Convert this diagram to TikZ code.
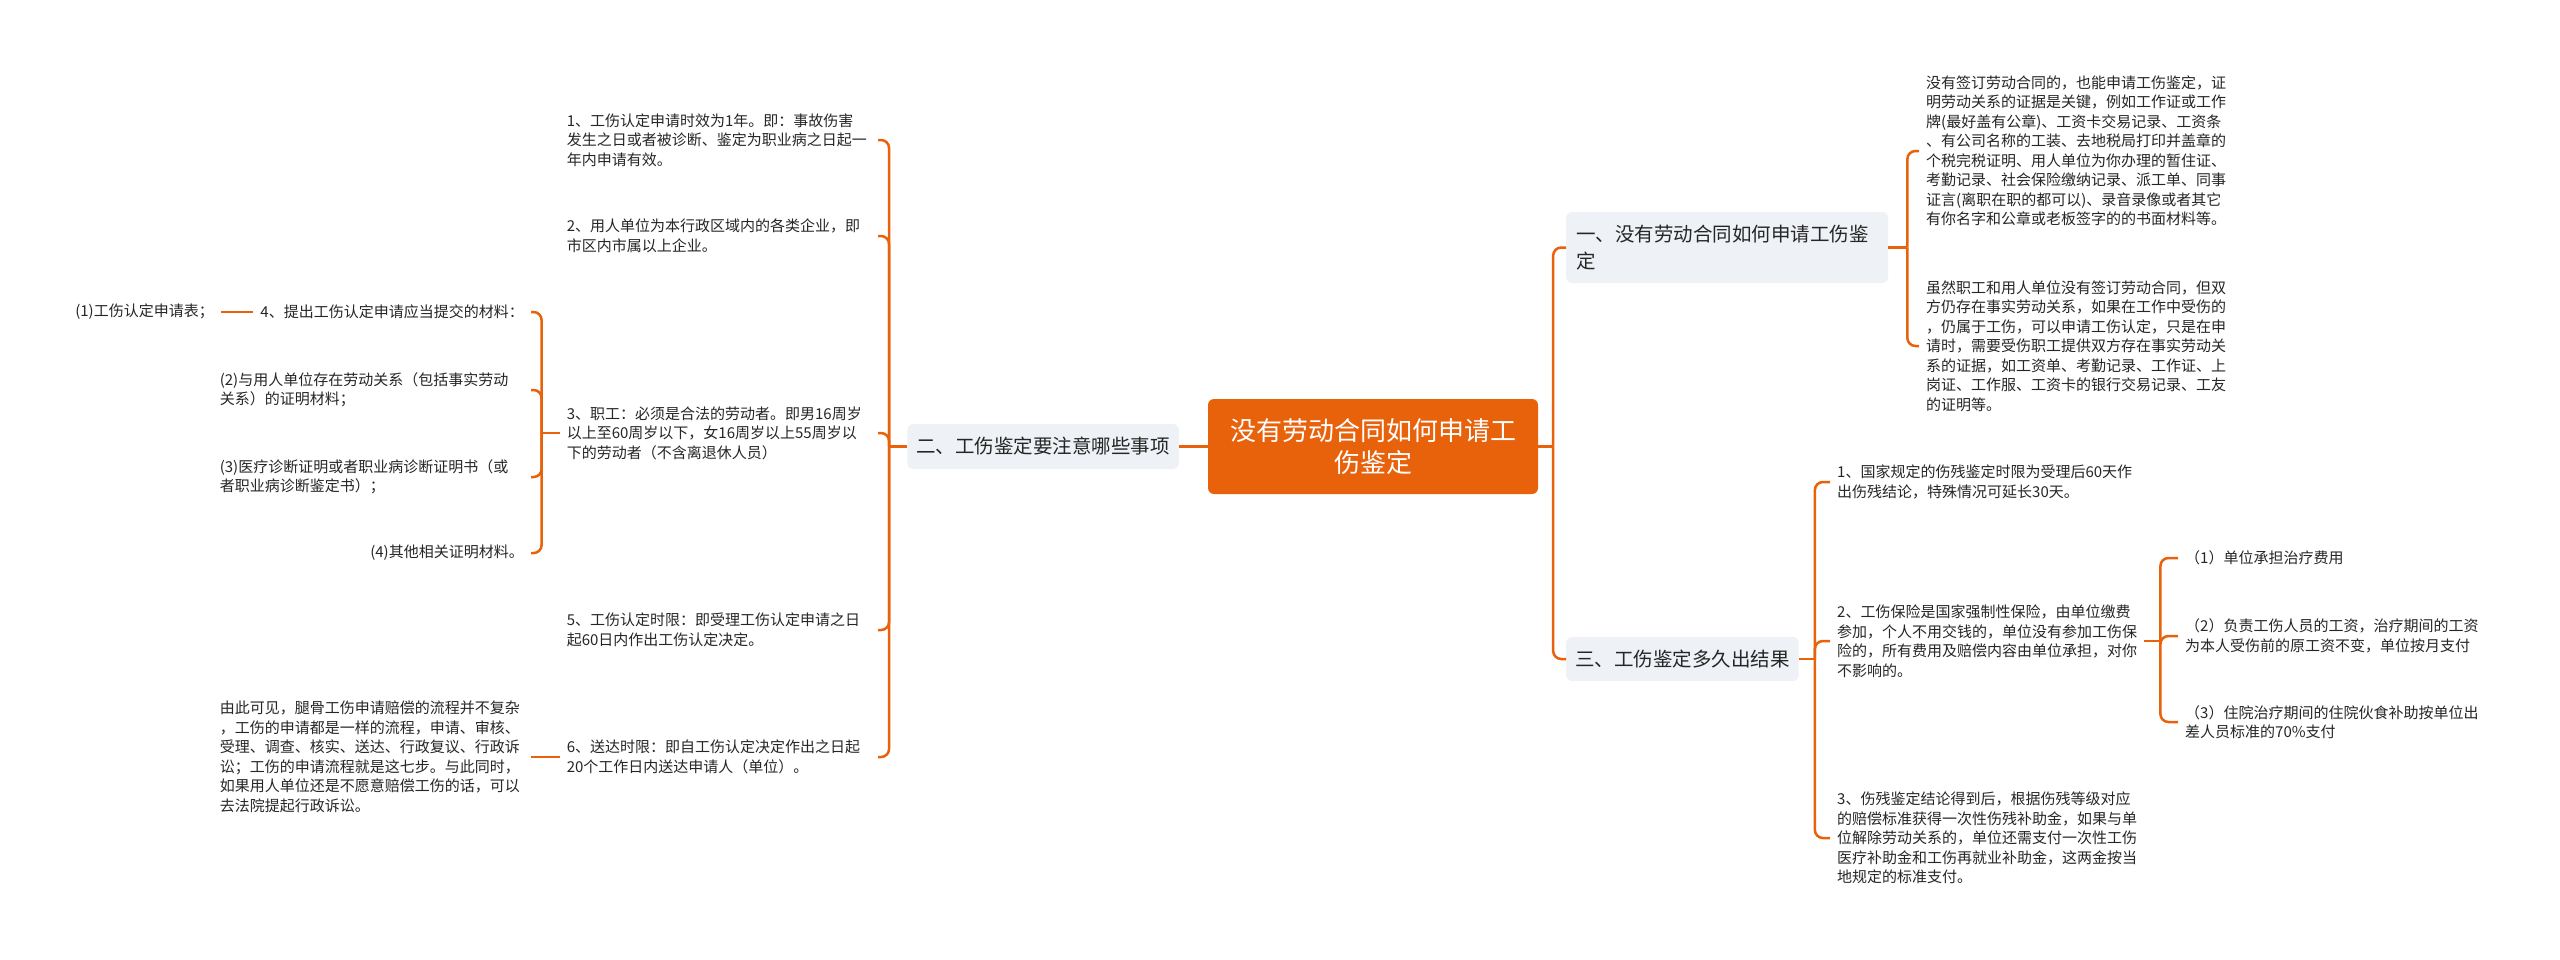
\documentclass[tikz,border=0pt]{standalone}
\usepackage{fontspec}
\setmainfont{Noto Sans CJK SC}
\definecolor{org}{HTML}{E8620C}
\definecolor{lvfill}{HTML}{EEF1F5}
\definecolor{txt}{HTML}{262626}
\tikzset{
  rootbox/.style={fill=org, rounded corners=6pt, text=white, font=\fontsize{26}{32}\selectfont, align=center, minimum width=330pt, minimum height=95pt, inner sep=0pt},
  lvbox/.style={fill=lvfill, rounded corners=6pt, text=txt, font=\fontsize{19.5}{27}\selectfont, align=left, inner xsep=9pt, inner ysep=0pt},
  leaf/.style={text=txt, font=\fontsize{15}{19.5}\selectfont, align=left, inner xsep=7pt, inner ysep=2pt},
  wleaf/.style={leaf, text width=304pt},
  conn/.style={draw=org, line width=2.5pt, rounded corners=8pt},
}
\begin{document}
\begin{tikzpicture}[x=1pt,y=-1pt]
\fill[white] (0,0) rectangle (2560,959);
\useasboundingbox (0,0) rectangle (2560,959);

% root and level 2
\node[rootbox] (root) at (1373,446.5) {没有劳动合同如何申请工\\伤鉴定};
\node[lvbox, minimum height=45pt] (n2) at (1043,446.5) {二、工伤鉴定要注意哪些事项};
\node[lvbox, text width=302pt, inner xsep=10pt, minimum height=71pt, anchor=west] (nA) at (1566,247.5) {一、没有劳动合同如何申请工伤鉴\\定};
\node[lvbox, minimum height=44pt, anchor=west] (nB) at (1566,659) {三、工伤鉴定多久出结果};

% left leaves
\node[wleaf, anchor=east] (l1) at (878,140) {1、工伤认定申请时效为1年。即：事故伤害\\发生之日或者被诊断、鉴定为职业病之日起一\\年内申请有效。};
\node[wleaf, anchor=east] (l2) at (878,236) {2、用人单位为本行政区域内的各类企业，即\\市区内市属以上企业。};
\node[wleaf, anchor=east] (l3) at (878,433) {3、职工：必须是合法的劳动者。即男16周岁\\以上至60周岁以下，女16周岁以上55周岁以\\下的劳动者（不含离退休人员）};
\node[wleaf, anchor=east] (l5) at (878,630) {5、工伤认定时限：即受理工伤认定申请之日\\起60日内作出工伤认定决定。};
\node[wleaf, anchor=east] (l6) at (878,757) {6、送达时限：即自工伤认定决定作出之日起\\20个工作日内送达申请人（单位）。};

\node[leaf, anchor=east] (c4) at (531,312) {4、提出工伤认定申请应当提交的材料：};
\node[wleaf, anchor=east] (c2) at (531,390) {(2)与用人单位存在劳动关系（包括事实劳动\\关系）的证明材料；};
\node[wleaf, anchor=east] (c3) at (531,477) {(3)医疗诊断证明或者职业病诊断证明书（或\\者职业病诊断鉴定书）；};
\node[leaf, anchor=east] (c4b) at (531,553) {(4)其他相关证明材料。};
\node[leaf, anchor=east] (d1) at (221,312) {(1)工伤认定申请表；};
\node[wleaf, anchor=east] (e1) at (531,757) {由此可见，腿骨工伤申请赔偿的流程并不复杂\\，工伤的申请都是一样的流程，申请、审核、\\受理、调查、核实、送达、行政复议、行政诉\\讼；工伤的申请流程就是这七步。与此同时，\\如果用人单位还是不愿意赔偿工伤的话，可以\\去法院提起行政诉讼。};

% right leaves
\node[wleaf, anchor=west] (a1) at (1919,151) {没有签订劳动合同的，也能申请工伤鉴定，证\\明劳动关系的证据是关键，例如工作证或工作\\牌(最好盖有公章)、工资卡交易记录、工资条\\、有公司名称的工装、去地税局打印并盖章的\\个税完税证明、用人单位为你办理的暂住证、\\考勤记录、社会保险缴纳记录、派工单、同事\\证言(离职在职的都可以)、录音录像或者其它\\有你名字和公章或老板签字的的书面材料等。};
\node[wleaf, anchor=west] (a2) at (1919,346) {虽然职工和用人单位没有签订劳动合同，但双\\方仍存在事实劳动关系，如果在工作中受伤的\\，仍属于工伤，可以申请工伤认定，只是在申\\请时，需要受伤职工提供双方存在事实劳动关\\系的证据，如工资单、考勤记录、工作证、上\\岗证、工作服、工资卡的银行交易记录、工友\\的证明等。};

\node[wleaf, anchor=west] (b1) at (1830,482) {1、国家规定的伤残鉴定时限为受理后60天作\\出伤残结论，特殊情况可延长30天。};
\node[leaf, anchor=west] (b2) at (1830,641) {2、工伤保险是国家强制性保险，由单位缴费\\参加，个人不用交钱的，单位没有参加工伤保\\险的，所有费用及赔偿内容由单位承担，对你\\不影响的。};
\node[wleaf, anchor=west] (b3) at (1830,838) {3、伤残鉴定结论得到后，根据伤残等级对应\\的赔偿标准获得一次性伤残补助金，如果与单\\位解除劳动关系的，单位还需支付一次性工伤\\医疗补助金和工伤再就业补助金，这两金按当\\地规定的标准支付。};

\node[leaf, anchor=west] (b2a) at (2178,558) {（1）单位承担治疗费用};
\node[leaf, anchor=west] (b2b) at (2178,636) {（2）负责工伤人员的工资，治疗期间的工资\\为本人受伤前的原工资不变，单位按月支付};
\node[leaf, anchor=west] (b2c) at (2178,722) {（3）住院治疗期间的住院伙食补助按单位出\\差人员标准的70\%支付};

% trunk points
\coordinate (tR) at ([xshift=15pt]root.east);
\coordinate (tL) at ([xshift=-18pt]n2.west);
\coordinate (t3) at ([xshift=-18pt]l3.west);
\coordinate (tA) at ([xshift=19pt]nA.east);
\coordinate (tB) at ([xshift=16pt]nB.east);
\coordinate (tB2) at ([xshift=16pt]b2.east);

% connectors
\draw[conn] (root.east) -- (tR);
\draw[conn] (tR) |- (nA.west);
\draw[conn] (tR) |- (nB.west);
\draw[conn] (root.west) -- (n2.east);
\draw[conn] (n2.west) -- (tL);
\foreach \c in {l1,l2,l3,l5,l6} \draw[conn] (tL) |- (\c.east);
\draw[conn] (l3.west) -- (t3);
\foreach \c in {c4,c2,c3,c4b} \draw[conn] (t3) |- (\c.east);
\draw[conn] (c4.west) -- (d1.east);
\draw[conn] (l6.west) -- (e1.east);
\draw[conn] (nA.east) -- (tA);
\foreach \c in {a1,a2} \draw[conn] (tA) |- (\c.west);
\draw[conn] (nB.east) -- (tB);
\foreach \c in {b1,b2,b3} \draw[conn] (tB) |- (\c.west);
\draw[conn] (b2.east) -- (tB2);
\foreach \c in {b2a,b2b,b2c} \draw[conn] (tB2) |- (\c.west);
\end{tikzpicture}
\end{document}
